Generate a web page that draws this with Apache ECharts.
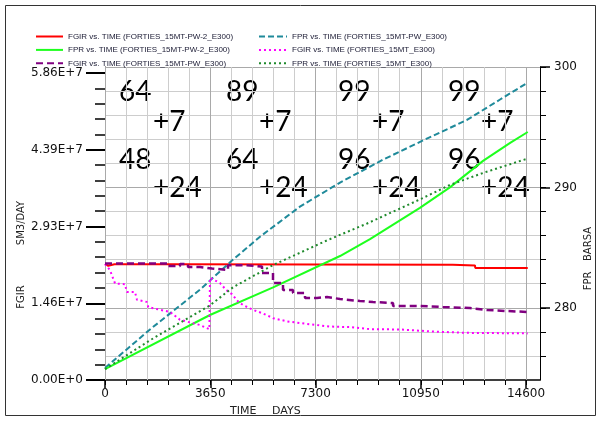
<!DOCTYPE html>
<html><head><meta charset="utf-8">
<script src="https://cdn.jsdelivr.net/npm/echarts@6/dist/echarts.min.js"></script>
<style>html,body{margin:0;padding:0;background:#fff}#c{width:599px;height:421px}</style>
</head><body><div id="c"></div>
<script>
// ---- tick labels ----
const xTickValues = [0, 3650, 7300, 10950, 14600];
const xTickLabels = ['0', '3650', '7300', '10950', '14600'];
const leftTickValues = [0, 1.465e7, 2.93e7, 4.395e7, 5.86e7];
const leftTickLabels = ['0.00E+0', '1.46E+7', '2.93E+7', '4.39E+7', '5.86E+7'];
const rightTickValues = [280, 290, 300];
const rightTickLabels = ['280', '290', '300'];

// ---- series names ----
const names = [
  'FGIR vs. TIME (FORTIES_15MT-PW-2_E300)',
  'FPR vs. TIME (FORTIES_15MT-PW_E300)',
  'FPR vs. TIME (FORTIES_15MT-PW-2_E300)',
  'FGIR vs. TIME (FORTIES_15MT_E300)',
  'FGIR vs. TIME (FORTIES_15MT-PW_E300)',
  'FPR vs. TIME (FORTIES_15MT_E300)'
];

// ---- data: [days, value] ----
const fgirPW2 = [[0,2.215e7],[110,2.18e7],[330,2.21e7],[2600,2.21e7],[2610,2.20e7],[12060,2.20e7],[12070,2.186e7],[12830,2.186e7],[12840,2.138e7],[14660,2.138e7]];
const fgirPW = [[0,2.224e7],[2185,2.176e7],[2601,2.215e7],[2878,2.157e7],[3300,2.128e7],[3711,2.100e7],[4265,2.19e7],[4900,2.165e7],[5445,2.042e7],[5826,1.852e7],[6173,1.718e7],[6520,1.661e7],[6936,1.565e7],[7352,1.584e7],[7699,1.546e7],[8150,1.508e7],[8843,1.489e7],[9294,1.470e7],[9988,1.413e7],[10924,1.393e7],[11721,1.374e7],[12658,1.336e7],[13247,1.317e7],[13941,1.298e7],[14660,1.298e7]];
const fgir15MT = [[0,2.214e7],[170,2.10e7],[350,1.84e7],[690,1.83e7],[760,1.68e7],[1040,1.68e7],[1110,1.53e7],[1450,1.49e7],[1500,1.39e7],[2250,1.30e7],[2600,1.15e7],[3290,1.05e7],[3620,0.97e7],[3641,1.95e7],[3990,1.85e7],[4200,1.72e7],[4400,1.64e7],[4610,1.50e7],[4790,1.43e7],[5130,1.34e7],[5480,1.27e7],[5830,1.18e7],[6310,1.12e7],[7000,1.07e7],[7800,1.02e7],[8500,1.01e7],[9190,0.97e7],[10230,0.965e7],[11375,0.925e7],[12550,0.90e7],[14660,0.89e7]];
const fprPW = [[0,275.0],[1560,278.2],[3290,281.5],[4440,284.0],[5375,285.9],[6760,288.4],[8150,290.4],[9640,292.3],[11030,293.9],[12550,295.6],[13700,297.3],[14660,298.7]];
const fprPW2 = [[0,274.9],[3640,279.4],[5830,281.7],[8150,284.3],[9190,285.7],[10920,288.3],[11960,290.0],[13110,292.2],[14050,293.7],[14660,294.6]];
const fpr15MT = [[0,274.9],[1560,277.3],[3640,280.2],[4440,281.7],[5830,283.55],[7700,285.6],[9090,287.0],[10920,289.0],[11960,290.2],[13110,291.2],[14660,292.4]];

// ---- annotations ----
const annTop = ['64', '89', '99', '99'];
const annBottom = ['48', '64', '96', '96'];
const annPlusTop = '+7';
const annPlusBottom = '+24';

// minor tick positions
const xMinor = []; for (let k = 0; k <= 20; k++) xMinor.push(k * 730);
const leftMinor = []; for (let k = 0; k <= 20; k++) leftMinor.push(k * 2.93e6);
const rightMinor = []; for (let k = 1; k <= 13; k++) rightMinor.push(274 + 2 * k);

const FONT = 'DejaVu Sans';
const lbl = { color: '#111', fontFamily: FONT, fontSize: 12 };
const legText = { fontFamily: "'Liberation Sans', Arial", fontSize: 8, color: '#1a1a33', lineHeight: 11 };
const MINOR = '#cdcdcd', MAJOR = '#a9a9a9';

const chart = echarts.init(document.getElementById('c'));

const annFont = '28px Lato';
const colX1 = [119, 226, 338, 448];
const colX2 = [153, 259, 372, 481];
const graphics = [
  { type: 'text', x: 21, y: 223, rotation: Math.PI / 2, style: { text: 'SM3/DAY', font: '10px DejaVu Sans', fill: '#222', textAlign: 'center', textVerticalAlign: 'middle' } },
  { type: 'text', x: 21, y: 297, rotation: Math.PI / 2, style: { text: 'FGIR', font: '10px DejaVu Sans', fill: '#222', textAlign: 'center', textVerticalAlign: 'middle' } },
  { type: 'text', x: 588, y: 244, rotation: Math.PI / 2, style: { text: 'BARSA', font: '10px DejaVu Sans', fill: '#222', textAlign: 'center', textVerticalAlign: 'middle' } },
  { type: 'text', x: 588, y: 281, rotation: Math.PI / 2, style: { text: 'FPR', font: '10px DejaVu Sans', fill: '#222', textAlign: 'center', textVerticalAlign: 'middle' } },
  { type: 'text', x: 230, y: 411, style: { text: 'TIME', font: '11px DejaVu Sans', fill: '#222', textAlign: 'left', textVerticalAlign: 'middle' } },
  { type: 'text', x: 272, y: 411, style: { text: 'DAYS', font: '11px DejaVu Sans', fill: '#222', textAlign: 'left', textVerticalAlign: 'middle' } },
  { type: 'polyline', shape: { points: [[5.5, 5.5], [595.5, 5.5], [595.5, 415.5], [5.5, 415.5], [5.5, 5.5]] }, style: { stroke: '#333', lineWidth: 1, fill: null }, silent: true }
];
for (let i = 0; i < 4; i++) {
  graphics.push({ type: 'text', x: colX1[i], y: 92, style: { text: annTop[i], font: annFont, fill: '#000', textAlign: 'left', textVerticalAlign: 'middle' } });
  graphics.push({ type: 'text', x: colX2[i], y: 122, style: { text: annPlusTop, font: annFont, fill: '#000', textAlign: 'left', textVerticalAlign: 'middle' } });
  graphics.push({ type: 'text', x: colX1[i], y: 160, style: { text: annBottom[i], font: annFont, fill: '#000', textAlign: 'left', textVerticalAlign: 'middle' } });
  graphics.push({ type: 'text', x: colX2[i], y: 188, style: { text: annPlusBottom, font: annFont, fill: '#000', textAlign: 'left', textVerticalAlign: 'middle' } });
}

function mk(name, data, yIdx, color, width, type, step) {
  const s = { name, type: 'line', data, xAxisIndex: 0, yAxisIndex: yIdx, symbol: 'none', showSymbol: false,
    lineStyle: { color, width, type }, itemStyle: { color } };
  if (step) s.step = step;
  return s;
}

const option = {
  animation: false,
  grid: { left: 105, right: 59, top: 67, bottom: 41 },
  legend: [
    { orient: 'vertical', left: 30, top: 26, itemWidth: 27, itemHeight: 8, itemGap: 2.4, data: [names[0], names[2], names[4]],
      textStyle: legText, itemStyle: { opacity: 0 }, selectedMode: false },
    { orient: 'vertical', left: 253, top: 26, itemWidth: 28, itemHeight: 8, itemGap: 2.4, data: [names[1], names[3], names[5]],
      textStyle: legText, itemStyle: { opacity: 0 }, selectedMode: false }
  ],
  xAxis: [
    { type: 'value', min: 0, max: 15085, position: 'bottom',
      axisLine: { show: true, onZero: false, lineStyle: { color: '#000', width: 1.5 } },
      axisTick: { show: false }, axisLabel: { show: false }, splitLine: { show: false } },
    { type: 'value', min: 0, max: 15085, position: 'bottom',
      axisLine: { show: false, onZero: false },
      axisTick: { show: true, length: 8, customValues: xTickValues, lineStyle: { color: '#000', width: 1.5 } },
      axisLabel: Object.assign({ show: true, customValues: xTickValues, margin: 8,
        formatter: v => xTickLabels[xTickValues.indexOf(v)] }, lbl),
      splitLine: { show: false } },
    { type: 'value', min: 0, max: 15085, position: 'bottom', z: 1,
      axisLine: { show: false, onZero: false },
      axisTick: { show: true, length: 5, customValues: xMinor, lineStyle: { color: '#000', width: 1 } },
      axisLabel: { show: false },
      splitLine: { show: true, lineStyle: { color: [MAJOR, MINOR, MINOR, MINOR, MINOR], width: 1 } } }
  ],
  yAxis: [
    { type: 'value', position: 'left', min: 0, max: 5.975e7,
      axisLine: { show: true, onZero: false, lineStyle: { color: '#000', width: 1 } },
      axisTick: { show: true, length: 10, customValues: leftMinor, lineStyle: { color: '#000', width: 1.5 } },
      axisLabel: { show: false }, splitLine: { show: false } },
    { type: 'value', position: 'right', min: 274, max: 300,
      axisLine: { show: true, onZero: false, lineStyle: { color: '#000', width: 1 } },
      axisTick: { show: false }, axisLabel: { show: false }, splitLine: { show: false } },
    { type: 'value', position: 'left', min: 0, max: 5.975e7,
      axisLine: { show: false, onZero: false },
      axisTick: { show: true, length: 19, customValues: leftTickValues, lineStyle: { color: '#000', width: 2 } },
      axisLabel: Object.assign({ show: true, customValues: leftTickValues, margin: 22,
        formatter: v => leftTickLabels[leftTickValues.indexOf(v)] }, lbl),
      splitLine: { show: false } },
    { type: 'value', position: 'right', min: 274, max: 300,
      axisLine: { show: false, onZero: false },
      axisTick: { show: true, length: 10, customValues: rightTickValues, lineStyle: { color: '#000', width: 1.5 } },
      axisLabel: Object.assign({ show: true, customValues: rightTickValues, margin: 14,
        formatter: v => rightTickLabels[rightTickValues.indexOf(v)] }, lbl),
      splitLine: { show: false } },
    { type: 'value', position: 'right', min: 274, max: 300, z: 1,
      axisLine: { show: false, onZero: false },
      axisTick: { show: true, length: 6, customValues: rightMinor, lineStyle: { color: '#000', width: 1 } },
      axisLabel: { show: false },
      splitLine: { show: true, lineStyle: { color: [MINOR, MINOR, MAJOR, MINOR, MINOR], width: 1 } } }
  ],
  series: [
    mk(names[0], fgirPW2, 0, '#ff0000', 2, 'solid'),
    mk(names[1], fprPW, 1, '#1f8a9a', 2, [6, 3]),
    mk(names[2], fprPW2, 1, '#1eff1e', 2, 'solid'),
    mk(names[3], fgir15MT, 0, '#ff00ff', 2, [2, 3]),
    mk(names[4], fgirPW, 0, '#800080', 2.5, [7, 4], 'end'),
    mk(names[5], fpr15MT, 1, '#1f8a2c', 2, [2, 3])
  ],
  graphic: graphics
};
chart.setOption(option);
</script>
</body></html>
